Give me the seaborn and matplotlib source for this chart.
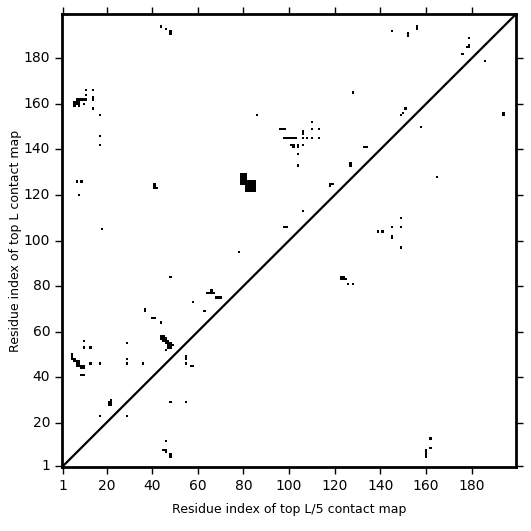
import numpy as np
import matplotlib
matplotlib.use("Agg")
import matplotlib.pyplot as plt
from matplotlib.colors import ListedColormap
import seaborn as sns

L = 199
tick_labels = [1, 20, 40, 60, 80, 100, 120, 140, 160, 180]

# contacts above the diagonal (residue i on x, residue j on y), 1-based
upper_i = [44, 46, 48, 48, 11, 14, 14, 14, 11, 7, 8, 9, 10, 11,
           6, 7, 8, 6, 7, 8, 6, 8, 10, 14, 17, 17, 17, 7, 9, 8, 18,
           41, 41, 41, 42, 128, 86, 110, 96, 97, 98, 106, 106, 110, 113,
           98, 99, 100, 101, 102, 103, 106, 108, 110, 113,
           101, 102, 102, 104, 104, 106, 104, 104, 133, 134, 127, 127,
           145, 152, 152, 156, 156, 179, 179, 179, 178, 176, 151, 150,
           79, 80, 81, 79, 80, 81, 79, 80, 81, 79, 80, 81, 79, 80, 81,
           81, 82, 83, 84, 85, 81, 82, 83, 84, 85, 81, 82, 83, 84, 85,
           81, 82, 83, 84, 85, 81, 82, 83, 84, 85,
           118, 118, 119, 106, 98, 99, 78, 48, 37, 37, 10, 10, 13, 29,
           5, 5, 5, 6, 6, 7, 8, 7, 8, 21, 22, 22, 29]
upper_j = [194, 193, 192, 191, 166, 166, 163, 162, 164, 162, 162, 162, 162, 162,
           161, 161, 161, 160, 160, 160, 159, 159, 160, 158, 155, 146, 142, 126, 126, 120, 105,
           125, 124, 123, 123, 165, 155, 152, 149, 149, 149, 148, 147, 149, 149,
           145, 145, 145, 145, 145, 145, 145, 145, 145, 145,
           142, 142, 141, 142, 141, 142, 138, 133, 141, 141, 134, 133,
           192, 191, 190, 194, 193, 189, 186, 185, 185, 182, 158, 156,
           129, 129, 129, 128, 128, 128, 127, 127, 127, 126, 126, 126, 125, 125, 125,
           126, 126, 126, 126, 126, 125, 125, 125, 125, 125, 124, 124, 124, 124, 124,
           123, 123, 123, 123, 123, 122, 122, 122, 122, 122,
           125, 124, 125, 113, 106, 106, 95, 84, 70, 69, 56, 53, 53, 55,
           50, 49, 48, 48, 47, 47, 47, 46, 46, 29, 29, 30, 48]

# contacts below / near the diagonal
lower_i = [149, 158, 194, 194, 186, 165, 149, 145, 149, 139, 141, 145, 145, 149,
           64, 65, 66, 67, 66, 68, 69, 70, 58, 63, 40, 41, 44,
           44, 45, 44, 45, 46, 45, 46, 47, 46, 47, 48, 47, 48, 49, 47, 48, 46,
           55, 55, 55, 57, 58, 48, 55, 29, 36, 17, 13,
           7, 8, 9, 10, 9, 10, 9, 10, 21, 22, 17, 29, 46, 45, 46, 46, 48, 48,
           160, 160, 160, 160, 162, 162, 123, 124, 123, 124, 125, 126, 128]
lower_j = [155, 150, 156, 155, 179, 128, 110, 106, 106, 104, 104, 102, 101, 97,
           77, 77, 77, 77, 78, 75, 75, 75, 73, 69, 66, 66, 64,
           58, 58, 57, 57, 57, 56, 56, 56, 55, 55, 55, 54, 54, 54, 53, 53, 52,
           49, 48, 46, 45, 45, 29, 29, 46, 46, 46, 46,
           45, 45, 45, 45, 44, 44, 41, 41, 28, 28, 23, 23, 12, 8, 8, 7, 6, 5,
           5, 6, 7, 8, 9, 13, 84, 84, 83, 83, 83, 81, 81]

mat = np.zeros((L, L))
for i, j in zip(upper_i + lower_i, upper_j + lower_j):
    mat[j - 1, i - 1] = 1

sns.set_style("white")
plt.rcParams['font.family'] = ['DejaVu Sans']

fig = plt.figure(figsize=(5.31, 5.31), dpi=100)
ax = fig.add_axes([0.1168, 0.1205, 0.855, 0.853])
sns.heatmap(mat, cmap=ListedColormap(["white", "black"]), cbar=False, ax=ax,
            vmin=0, vmax=1, linewidths=0, rasterized=True)
ax.set_xlim(0, L)
ax.set_ylim(0, L)
ax.plot([0, L], [0, L], color="black", lw=1.6)

pos = [t - 0.5 for t in tick_labels]
ax.set_xticks(pos)
ax.set_xticklabels([str(t) for t in tick_labels], rotation=0, fontsize=10)
ax.set_yticks(pos)
ax.set_yticklabels([str(t) for t in tick_labels], rotation=0, fontsize=10)
ax.tick_params(direction="out", length=5, width=1, colors="black", labelcolor="black",
               left=True, bottom=True, right=True, top=True)
for s in ax.spines.values():
    s.set_visible(True)
    s.set_color("black")
    s.set_linewidth(2)
ax.set_xlabel("Residue index of top L/5 contact map", fontsize=9, labelpad=7, color="black")
ax.set_ylabel("Residue index of top L contact map", fontsize=9, labelpad=1, color="black")
fig.savefig("out.png", dpi=100)
